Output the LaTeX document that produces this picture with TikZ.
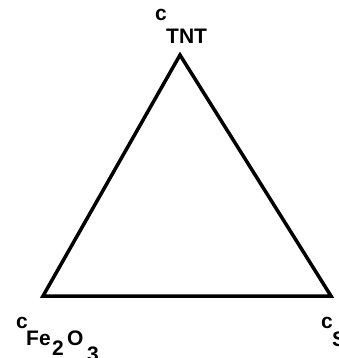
\documentclass[tikz,border=0pt]{standalone}
\usepackage{fontspec}
\setmainfont{Liberation Sans}
\begin{document}
\begin{tikzpicture}[x=1pt,y=-1pt,
  lbl/.style={anchor=base west,inner sep=0pt,font=\fontsize{21}{25}\selectfont\bfseries},
  edge/.style={line width=3.5pt,line join=miter}]
\useasboundingbox (0,0) rectangle (339,358);
\clip (0,0) rectangle (339,358);
\coordinate (top) at (180,55);
\coordinate (bl) at (43,296);
\coordinate (br) at (331,296);
\draw[edge] (top) -- (bl) -- (br) -- cycle;
% top label
\node[lbl] (ct) at (155,21) {c};
\node[lbl] (tnt) at (166,44) {TNT};
% bottom-left label
\node[lbl] (cf) at (16,328) {c};
\node[lbl] (fe) at (26,345) {Fe};
\node[lbl] (two) at (52,355) {2};
\node[lbl] (o) at (67,345) {O};
\node[lbl] (three) at (87,361) {3};
% bottom-right label
\node[lbl] (cs) at (321,328) {c};
\node[lbl] (s) at (332,346) {S};
\end{tikzpicture}
\end{document}
